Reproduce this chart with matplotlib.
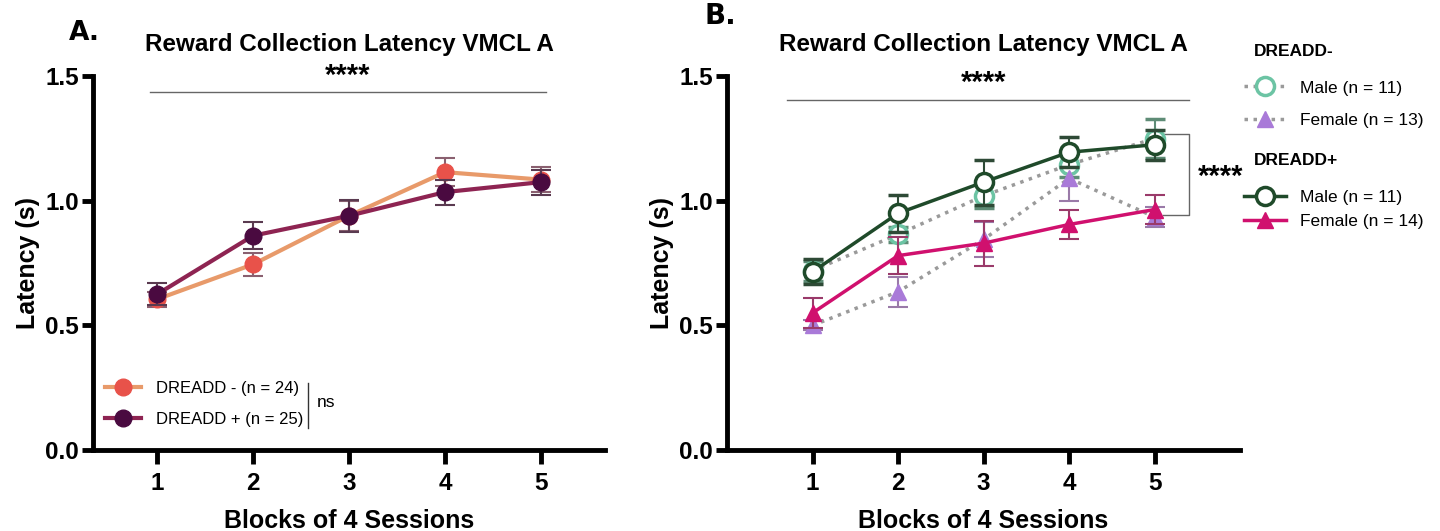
import numpy as np
import matplotlib
matplotlib.use("Agg")
import matplotlib.pyplot as plt
from matplotlib.lines import Line2D

plt.rcParams['font.family'] = ['Liberation Sans', 'DejaVu Sans']

blocks = [1, 2, 3, 4, 5]

# panel A: all animals by group
neg_mean = [0.605, 0.745, 0.94, 1.115, 1.085]
neg_sem = [0.03, 0.045, 0.06, 0.055, 0.05]
pos_mean = [0.625, 0.86, 0.94, 1.035, 1.075]
pos_sem = [0.045, 0.055, 0.065, 0.05, 0.05]

# panel B: split by sex
neg_male_mean = [0.72, 0.865, 1.02, 1.145, 1.25]
neg_male_sem = [0.04, 0.03, 0.05, 0.05, 0.08]
neg_female_mean = [0.50, 0.635, 0.845, 1.09, 0.935]
neg_female_sem = [0.02, 0.06, 0.07, 0.09, 0.04]
pos_male_mean = [0.715, 0.95, 1.075, 1.195, 1.225]
pos_male_sem = [0.05, 0.075, 0.09, 0.06, 0.06]
pos_female_mean = [0.55, 0.78, 0.83, 0.905, 0.965]
pos_female_sem = [0.06, 0.075, 0.09, 0.06, 0.06]

fig = plt.figure(figsize=(14.4, 5.31), dpi=100)
axA = fig.add_axes([0.0646, 0.1525, 0.3556, 0.704])
axB = fig.add_axes([0.5049, 0.1525, 0.3563, 0.704])


def style_axes(ax, xlim):
    ax.set_xlim(*xlim)
    ax.set_ylim(0, 1.5)
    ax.set_yticks([0, 0.5, 1.0, 1.5])
    ax.set_yticklabels(['0.0', '0.5', '1.0', '1.5'])
    ax.set_xticks(blocks)
    for s in ['top', 'right']:
        ax.spines[s].set_visible(False)
    for s in ['left', 'bottom']:
        ax.spines[s].set_linewidth(3.5)
    ax.tick_params(axis='both', width=3.5, length=10, labelsize=17.5, pad=6)
    ax.tick_params(axis='y', length=8, pad=2)
    for lab in ax.get_xticklabels() + ax.get_yticklabels():
        lab.set_fontweight('bold')
    ax.set_xlabel('Blocks of 4 Sessions', fontsize=18, fontweight='bold', labelpad=10)
    ax.set_ylabel('Latency (s)', fontsize=18, fontweight='bold', labelpad=4)
    ax.set_title('Reward Collection Latency VMCL A', fontsize=17.5,
                 fontweight='bold', pad=18)


# ---- panel A ----
style_axes(axA, (0.333, 5.667))
axA.errorbar(blocks, neg_mean, yerr=neg_sem, color='#E89A6A', lw=3,
             marker='o', ms=12, mfc='#E8524A', mec='#E8524A',
             ecolor='#8a6070', elinewidth=1.5, capsize=7, capthick=1.5, zorder=3)
axA.errorbar(blocks, pos_mean, yerr=pos_sem, color='#8E2452', lw=3,
             marker='o', ms=12, mfc='#4A0A40', mec='#4A0A40',
             ecolor='#5a3a50', elinewidth=1.5, capsize=7, capthick=1.5, zorder=4)
axA.plot([0.93, 5.05], [1.437, 1.437], color='#666666', lw=1)
axA.text(2.99, 1.445, '****', ha='center', va='bottom', fontsize=21, fontweight='bold')

handlesA = [
    Line2D([], [], color='#E89A6A', lw=3, marker='o', ms=12, mfc='#E8524A', mec='#E8524A'),
    Line2D([], [], color='#8E2452', lw=3, marker='o', ms=12, mfc='#4A0A40', mec='#4A0A40'),
]
legA = axA.legend(handlesA, ['DREADD - (n = 24)', 'DREADD + (n = 25)'],
                  loc='lower left', bbox_to_anchor=(0.0, 0.03), frameon=False,
                  fontsize=12, handlelength=2.2, handletextpad=0.9,
                  labelspacing=0.95, borderpad=0.2)
axA.plot([2.57, 2.57], [0.09, 0.27], color='#333333', lw=1)
axA.text(2.66, 0.19, 'ns', ha='left', va='center', fontsize=12.5)
fig.text(0.048, 0.925, 'A.', fontsize=19, fontweight='bold', family='DejaVu Sans')

# ---- panel B ----
style_axes(axB, (0.0, 6.0))
axB.errorbar(blocks, neg_male_mean, yerr=neg_male_sem, color='#9a9a9a', lw=2.5,
             ls=(0, (1, 1.6)), marker='o', ms=13, mfc='white', mec='#6CC4A4', mew=2.5,
             ecolor='#5e8c76', elinewidth=1.5, capsize=7, capthick=1.5, zorder=2)
axB.errorbar(blocks, neg_female_mean, yerr=neg_female_sem, color='#9a9a9a', lw=2.5,
             ls=(0, (1, 1.6)), marker='^', ms=12, mfc='#A97AD8', mec='#A97AD8',
             ecolor='#9a7aa8', elinewidth=1.5, capsize=7, capthick=1.5, zorder=2)
axB.errorbar(blocks, pos_female_mean, yerr=pos_female_sem, color='#D0106E', lw=2.5,
             marker='^', ms=12, mfc='#D0106E', mec='#D0106E',
             ecolor='#9a3a6a', elinewidth=1.5, capsize=7, capthick=1.5, zorder=3)
axB.errorbar(blocks, pos_male_mean, yerr=pos_male_sem, color='#1F4A2A', lw=2.5,
             marker='o', ms=13, mfc='white', mec='#1F4A2A', mew=2.5,
             ecolor='#2e4a36', elinewidth=1.5, capsize=7, capthick=1.5, zorder=4)

axB.plot([0.7, 5.4], [1.405, 1.405], color='#666666', lw=1)
axB.text(3.0, 1.415, '****', ha='center', va='bottom', fontsize=21, fontweight='bold')
axB.plot([5.1, 5.4, 5.4, 5.1], [1.27, 1.27, 0.945, 0.945], color='#666666', lw=1)
axB.text(5.5, 1.095, '****', ha='left', va='center', fontsize=21, fontweight='bold',
         clip_on=False)
fig.text(0.489, 0.955, 'B.', fontsize=20, fontweight='bold', family='DejaVu Sans')

handles_neg = [
    Line2D([], [], color='#9a9a9a', lw=2.5, ls=(0, (1, 1.6)), marker='o', ms=13,
           mfc='white', mec='#6CC4A4', mew=2.5),
    Line2D([], [], color='#9a9a9a', lw=2.5, ls=(0, (1, 1.6)), marker='^', ms=12,
           mfc='#A97AD8', mec='#A97AD8'),
]
handles_pos = [
    Line2D([], [], color='#1F4A2A', lw=2.5, marker='o', ms=13, mfc='white',
           mec='#1F4A2A', mew=2.5),
    Line2D([], [], color='#D0106E', lw=2.5, marker='^', ms=12, mfc='#D0106E',
           mec='#D0106E'),
]
fig.text(0.871, 0.895, 'DREADD-', fontsize=12.5, fontweight='bold')
fig.legend(handles_neg, ['Male (n = 11)', 'Female (n = 13)'],
           loc='upper left', bbox_to_anchor=(0.853, 0.878), frameon=False,
           fontsize=12.5, handlelength=2.4, labelspacing=1.0)
fig.text(0.871, 0.69, 'DREADD+', fontsize=12.5, fontweight='bold')
fig.legend(handles_pos, ['Male (n = 11)', 'Female (n = 14)'],
           loc='upper left', bbox_to_anchor=(0.853, 0.672), frameon=False,
           fontsize=12.5, handlelength=2.4, labelspacing=0.5)

fig.savefig('out.png', dpi=100)
